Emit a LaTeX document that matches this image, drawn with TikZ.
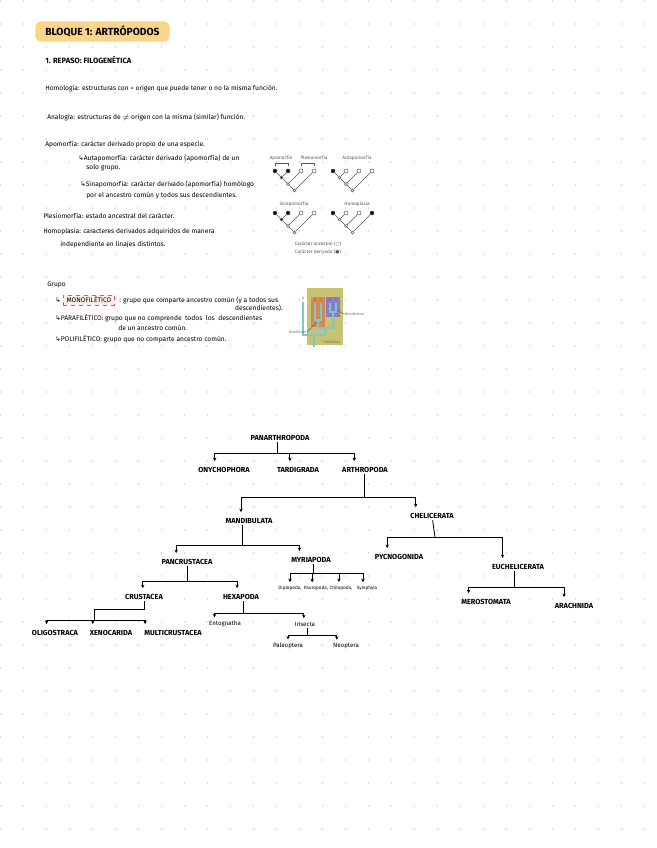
\documentclass[tikz,border=0pt]{standalone}
\usepackage{fontspec}
\setmainfont{Fira Sans}
\newfontfamily\symfont{DejaVu Sans}
\usetikzlibrary{arrows.meta,positioning,calc}

\definecolor{pill}{RGB}{250,212,135}
\definecolor{cladeolive}{RGB}{200,195,115}
\definecolor{cladeorange}{RGB}{214,136,78}
\definecolor{cladepurple}{RGB}{138,124,200}
\definecolor{cladeteal}{RGB}{125,198,202}

\begin{document}
\begin{tikzpicture}[x=0.75pt,y=-0.75pt,
  lbl/.style={font=\fontsize{5.5}{6}\selectfont\bfseries,inner sep=1pt},
  sub/.style={font=\fontsize{4.6}{5}\selectfont,inner sep=1pt},
  subm/.style={font=\fontsize{3.5}{4}\selectfont,inner sep=1pt},
  note/.style={font=\fontsize{5}{6}\selectfont,anchor=west,inner sep=0pt},
  arr/.style={-{Stealth[length=2.6pt,width=2.6pt]},line width=0.6pt,shorten >=3.5pt},
  ln/.style={line width=0.6pt},
  tip/.style={draw=black!65,circle,inner sep=0pt,minimum size=3pt,line width=0.4pt},
  inn/.style={draw=black!65,circle,inner sep=0pt,minimum size=2.2pt,line width=0.4pt},
  tr/.style={draw=black!65,line width=0.5pt},
  capt/.style={font=\fontsize{3.5}{4}\selectfont,text=black!65,inner sep=0.5pt},
  minilbl/.style={font=\fontsize{2.6}{3}\selectfont,text=black!60,inner sep=0.3pt}]

  % page and dot grid
  \fill[white] (0,0) rectangle (656,848);
  \useasboundingbox (0,0) rectangle (656,848);
  \foreach \i in {0,...,28}
    \foreach \j in {0,...,36}
      \fill[black!18] (23*\i+0.5,23*\j+1) circle (0.9);

  % heading
  \node[fill=pill,rounded corners=4.5pt,anchor=west,inner xsep=7.5pt,minimum height=9.75pt,
        font=\fontsize{7.7}{8}\selectfont\bfseries] (tit) at (35,31.5) {BLOQUE 1: ARTRÓPODOS};
  \node[note,font=\fontsize{5.7}{6}\selectfont\bfseries] (rep) at (45,60) {1. REPASO: FILOGENÉTICA};

  % notes
  \node[note] (hom) at (45,89) {Homología: estructuras con = origen que puede tener o no la misma función.};
  \node[note] (ana) at (47,117) {Analogía: estructuras de $\neq$ origen con la misma (similar) función.};
  \node[note] (apo) at (45,145) {Apomorfía: carácter derivado propio de una especie.};
  \node[note] (aut1) at (78,158) {{\symfont ↳}Autapomorfía: carácter derivado (apomorfía) de un};
  \node[note] (aut2) at (86,168) {solo grupo.};
  \node[note] (sin1) at (80,184) {{\symfont ↳}Sinapomorfía: carácter derivado (apomorfía) homólogo};
  \node[note] (sin2) at (86,196) {por el ancestro común y todos sus descendientes.};
  \node[note] (ple) at (43,216) {Plesiomorfía: estado ancestral del carácter.};
  \node[note] (hpl1) at (43,232) {Homoplasia: caracteres derivados adquiridos de manera};
  \node[note] (hpl2) at (60,245) {independiente en linajes distintos.};

  % character trees
  \foreach \t/\x/\y/\a/\b/\c/\d/\n in {A/275/171/black/black/white/white/black,
                                       B/333/171/black/white/white/white/white,
                                       C/275/213/black/black/white/white/black,
                                       D/333/213/black/white/white/black/white} {
    \node[tip,fill=\a] (\t1) at (\x,\y) {};
    \node[tip,fill=\b] (\t2) at (\x+13,\y) {};
    \node[tip,fill=\c] (\t3) at (\x+26,\y) {};
    \node[tip,fill=\d] (\t4) at (\x+39,\y) {};
    \node[inn,fill=\n] (\t n) at (\x+6.5,\y+6.5) {};
    \node[inn,fill=white] (\t m) at (\x+13,\y+13) {};
    \node[inn,fill=white] (\t r) at (\x+19.5,\y+19.5) {};
    \draw[tr] (\t r) -- (\t m) -- (\t n) -- (\t1);
    \draw[tr] (\t n) -- (\t2);
    \draw[tr] (\t m) -- (\t3);
    \draw[tr] (\t r) -- (\t4);
  }
  \draw[tr] ([yshift=2pt]A1.north) -- ++(0,-3) -| ([yshift=2pt]A2.north);
  \draw[tr] ([yshift=2pt]A3.north) -- ++(0,-3) -| ([yshift=2pt]A4.north);
  \node[capt] (capo) at (281,158) {Apomorfía};
  \node[capt] (cple) at (314,158) {Plesiomorfía};
  \node[capt] (caut) at (357,158) {Autapomorfía};
  \node[capt] (csin) at (294,204) {Sinapomorfía};
  \node[capt] (chom) at (357,204) {Homoplasia};
  \node[capt] (canc) at (318,244) {Carácter ancestral ({\symfont ○})};
  \node[capt] (cder) at (318,252) {Carácter derivado ({\symfont ●})};

  % groups
  \node[note] (gru) at (47,285) {Grupo};
  \node[note] (mar) at (55,300) {\symfont ↳};
  \node[note,draw=red!70,dashed,fill=red!7,inner xsep=2.5pt,inner ysep=1.5pt,line width=0.4pt] (mono) at (63,300) {MONOFILÉTICO};
  \node[note] (mono1) at (119,300) {: grupo que comparte ancestro común (y a todos sus};
  \node[note,anchor=east] (mono2) at (283,308) {descendientes).};
  \node[note] (para1) at (55,318) {{\symfont ↳}PARAFILÉTICO: grupo que no comprende \ todos \ los \ descendientes};
  \node[note] (para2) at (118,328) {de un ancestro común.};
  \node[note] (poli) at (55,339) {{\symfont ↳}POLIFILÉTICO: grupo que no comparte ancestro común.};

  % clade picture
  \fill[cladeolive] (307,288) rectangle (343,345);
  \fill[cladeorange] (311,297) rectangle (325,327);
  \fill[cladepurple] (326,297) rectangle (340,317);
  \draw[cladeteal,line width=0.8pt] (315,303) -- (315,320) -- (321,320) -- (321,303);
  \draw[cladeteal,line width=0.8pt] (330,303) -- (330,312) -- (336,312) -- (336,303);
  \draw[cladeteal,line width=0.8pt] (318,320) -- (318,328) -- (333,328) -- (333,312);
  \draw[cladeteal,line width=0.8pt] (303,302) -- (303,335) -- (325,335) -- (325,328);
  \draw[cladeteal,line width=0.8pt] (314,335) -- (314,347);
  \node[minilbl] (ta) at (303,298) {A};
  \node[minilbl] (tb) at (315,300) {B};
  \node[minilbl] (tc) at (321,300) {C};
  \node[minilbl] (td) at (330,300) {D};
  \node[minilbl] (te) at (336,300) {E};
  \node[minilbl,anchor=east] (lpar) at (307,332) {Parafilético};
  \node[minilbl,anchor=west] (lmon) at (344,314) {Monofilético};
  \node[minilbl] (lpol) at (332,342) {Polifilético};
  \coordinate (ppar) at (316,323);
  \coordinate (pmon) at (337,310);
  \draw[black!60,line width=0.3pt] (lpar.east) -- (ppar);
  \draw[black!60,line width=0.3pt] (lmon.west) -- (pmon);

  % arthropod tree
  \node[lbl] (pan) at (280,438) {PANARTHROPODA};
  \node[lbl] (ony) at (224,470) {ONYCHOPHORA};
  \node[lbl] (tar) at (298,470) {TARDIGRADA};
  \node[lbl] (art) at (365,470) {ARTHROPODA};
  \node[lbl] (man) at (249,521) {MANDIBULATA};
  \node[lbl] (che) at (432,516) {CHELICERATA};
  \node[lbl] (pcr) at (187,562) {PANCRUSTACEA};
  \node[lbl] (myr) at (311,560) {MYRIAPODA};
  \node[lbl] (pyc) at (399,557) {PYCNOGONIDA};
  \node[lbl] (euc) at (518,567) {EUCHELICERATA};
  \node[lbl] (cru) at (144,597) {CRUSTACEA};
  \node[lbl] (hex) at (241,597) {HEXAPODA};
  \node[lbl] (oli) at (55,633) {OLIGOSTRACA};
  \node[lbl] (xen) at (111,633) {XENOCARIDA};
  \node[lbl] (mul) at (173,633) {MULTICRUSTACEA};
  \node[lbl] (mer) at (486,602) {MEROSTOMATA};
  \node[lbl] (ara) at (574,606) {ARACHNIDA};
  \node[subm] (dip) at (290,588) {Diplopoda,};
  \node[subm] (pau) at (316,588) {Pauropoda,};
  \node[subm] (chi) at (341,588) {Chilopoda,};
  \node[subm] (sym) at (367,588) {Symphyla};
  \node[sub] (ent) at (225,624) {Entognatha};
  \node[sub] (ins) at (305,624) {Insecta};
  \node[sub] (pal) at (288,646) {Paleoptera};
  \node[sub] (neo) at (346,646) {Neoptera};

  \coordinate (b0) at (277,453);
  \coordinate (b1) at (364,497);
  \coordinate (b2) at (242,545);
  \coordinate (b3) at (187,581);
  \coordinate (b4) at (313,573);
  \coordinate (b5) at (243,613);
  \coordinate (b6) at (307,635);
  \coordinate (b7) at (435,537);
  \coordinate (b8) at (514,587);
  \coordinate (bc) at (94,609);
  \coordinate (b9) at (94,620);

  \draw[ln] (b0 |- pan.south) -- (b0);
  \draw[ln] (b1 |- art.south) -- (b1);
  \draw[ln] (b2 |- man.south) -- (b2);
  \draw[ln] (b3 |- pcr.south) -- (b3);
  \draw[ln] (b4 |- myr.south) -- (b4);
  \draw[ln] (b5 |- hex.south) -- (b5);
  \draw[ln] (b6 |- ins.south) -- (b6);
  \draw[ln] (b8 |- euc.south) -- (b8);
  \draw[ln] (che) -- (b7);
  \draw[ln] (cru.south) |- (bc) -- (b9);

  \foreach \b/\c/\f in {b0/ony/.33, b0/tar/.32, b0/art/.28,
                        b1/man/.34, b1/che/.15,
                        b2/pcr/.3, b2/myr/.23,
                        b3/cru/.47, b3/hex/.4,
                        b9/oli/.33, b9/xen/.1, b9/mul/.04,
                        b7/pyc/.27, b7/euc/.22,
                        b8/mer/.17, b8/ara/.26}
    \draw[arr] (\b) -| ($(\c.north west)!\f!(\c.north east)$);
  \foreach \b/\c/\f in {b4/dip/.5, b4/pau/.36, b4/chi/.42, b4/sym/.33,
                        b5/ent/.2, b5/ins/.45,
                        b6/pal/.5, b6/neo/.18}
    \draw[arr,shorten >=1.5pt] (\b) -| ($(\c.north west)!\f!(\c.north east)$);
\end{tikzpicture}
\end{document}
